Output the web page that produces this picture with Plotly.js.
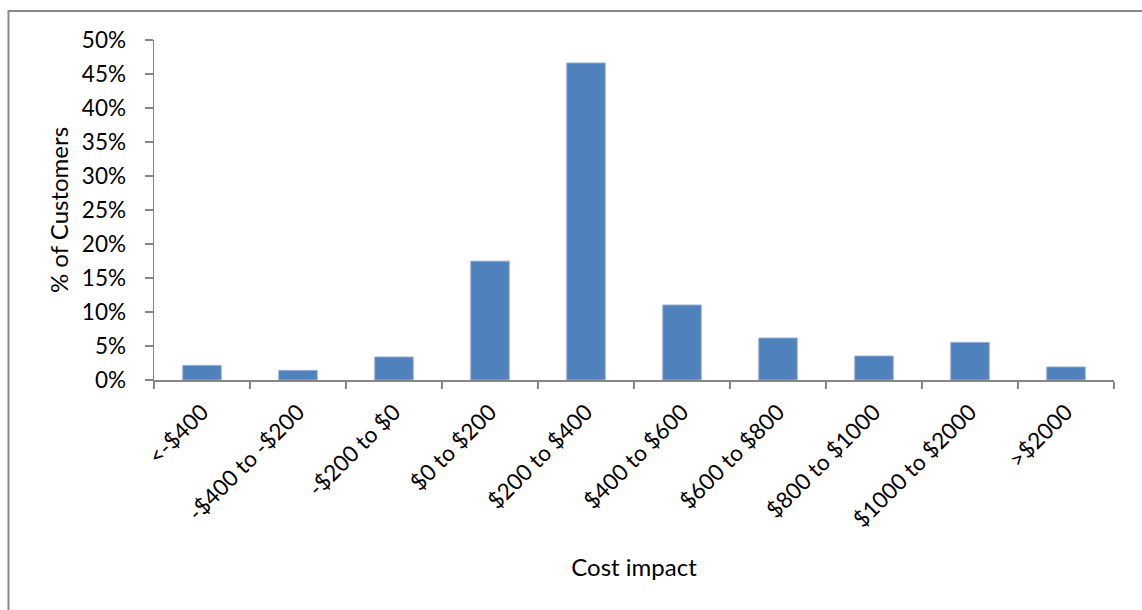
<!DOCTYPE html>
<html>
<head>
<meta charset="utf-8">
<script src="https://cdn.plot.ly/plotly-3.0.1.min.js"></script>
<style>
  html, body { margin: 0; padding: 0; background: #fff; }
  #chart { width: 1142px; height: 610px; }
</style>
</head>
<body>
<div id="chart"></div>
<script>
// Cost impact bins and share of customers in each (percent)
const categories = [
  '<-$400', '-$400 to -$200', '-$200 to $0', '$0 to $200', '$200 to $400',
  '$400 to $600', '$600 to $800', '$800 to $1000', '$1000 to $2000', '>$2000'
];
const customerShare = [2.15, 1.41, 3.38, 17.48, 46.62, 11.02, 6.17, 3.52, 5.53, 1.91];
const yTickValues = [0, 5, 10, 15, 20, 25, 30, 35, 40, 45, 50];

const W = 1142, H = 610;
const margin = { l: 154, r: 28, t: 40, b: 230, pad: 0 };
const plotW = W - margin.l - margin.r;
const plotH = H - margin.t - margin.b;
// convert page pixels to paper coordinates for the outer frame
const px = x => (x - margin.l) / plotW;
const py = y => 1 - (y - margin.t) / plotH;

const axisColor = '#868686';
const family = 'Lato, "Open Sans", sans-serif';
const tickFont = { family: family, size: 22.5, color: '#000' };
const titleFont = { family: family, size: 24, color: '#000' };

const trace = {
  type: 'bar',
  x: categories,
  y: customerShare,
  marker: { color: '#4f81bd', line: { color: '#8eaad6', width: 1 } },
  hoverinfo: 'x+y'
};

const layout = {
  width: W, height: H,
  margin: margin,
  paper_bgcolor: '#fff',
  plot_bgcolor: '#fff',
  font: tickFont,
  showlegend: false,
  bargap: 0.6,
  xaxis: {
    type: 'category',
    showgrid: false,
    zeroline: false,
    showline: true,
    linecolor: axisColor,
    linewidth: 2,
    ticks: 'outside',
    tickson: 'boundaries',
    ticklen: 7,
    tickcolor: axisColor,
    tickwidth: 1.5,
    tickangle: -45,
    ticklabelstandoff: 8,
    tickfont: tickFont,
    title: { text: 'Cost impact', font: titleFont, standoff: 0 },
    automargin: false
  },
  yaxis: {
    range: [0, 50],
    tickvals: yTickValues,
    ticktext: yTickValues.map(v => v + '%'),
    showgrid: false,
    zeroline: false,
    showline: true,
    linecolor: axisColor,
    linewidth: 1.5,
    ticks: 'outside',
    ticklen: 8,
    tickcolor: axisColor,
    tickwidth: 1.5,
    ticklabelstandoff: 14,
    tickfont: tickFont,
    title: { text: '% of Customers', font: titleFont, standoff: 12 },
    automargin: false
  },
  shapes: [
    {
      type: 'path', xref: 'paper', yref: 'paper',
      path: `M ${px(1200)} ${py(11)} L ${px(8.5)} ${py(11)} L ${px(8.5)} ${py(700)}`,
      line: { color: '#888', width: 2 }
    }
  ]
};

Plotly.newPlot('chart', [trace], layout, { displayModeBar: false, staticPlot: true }).then(gd => {
  // place the axis titles in their final spots
  const xt = gd.querySelector('.g-xtitle text');
  if (xt) { xt.setAttribute('y', 576); }
  const yt = gd.querySelector('.g-ytitle text');
  if (yt) {
    const cy = margin.t + plotH / 2;
    yt.setAttribute('x', 68);
    yt.setAttribute('y', cy);
    yt.setAttribute('transform', 'rotate(-90,68,' + cy + ')');
  }
});
</script>
</body>
</html>
